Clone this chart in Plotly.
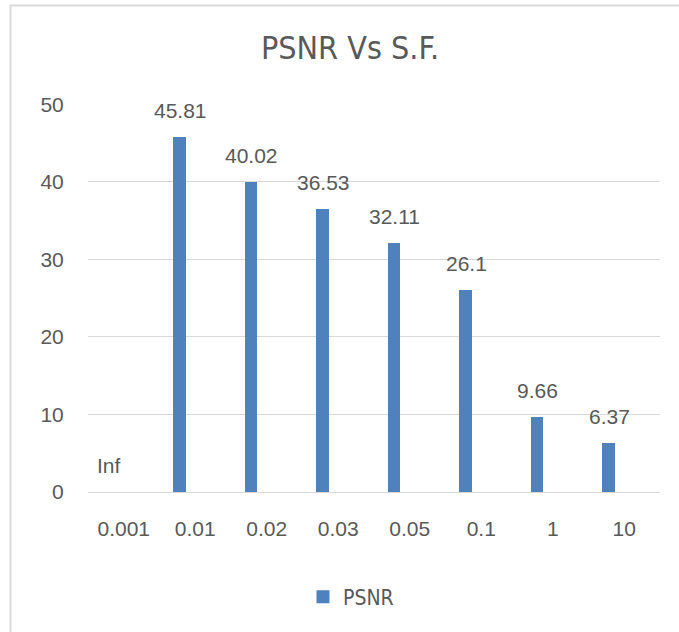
import plotly.graph_objects as go

categories = ["0.001", "0.01", "0.02", "0.03", "0.05", "0.1", "1", "10"]
psnr_values = [0, 45.81, 40.02, 36.53, 32.11, 26.1, 9.66, 6.37]
label_texts = ["Inf", "45.81", "40.02", "36.53", "32.11", "26.1", "9.66", "6.37"]
y_ticks = [0, 10, 20, 30, 40, 50]

W, H = 679, 632
L, R, T, B = 88, 19, 104, 140
plot_w = W - L - R
plot_h = H - T - B

narrow = "Liberation Sans Narrow, Arial Narrow, DejaVu Sans Condensed, sans-serif"
regular = "Liberation Sans, Arial, sans-serif"
gray_text = "#595959"
bar_color = "#4F81BD"
grid = "#D9D9D9"

fig = go.Figure()
fig.add_trace(go.Bar(
    x=categories, y=psnr_values, name="PSNR",
    marker=dict(color=bar_color, line=dict(width=0)),
    width=0.18, offset=-0.31,
    hoverinfo="x+y", showlegend=False,
))
# legend entry with a larger square swatch
fig.add_trace(go.Scatter(
    x=[None], y=[None], mode="markers", name="PSNR",
    marker=dict(symbol="square", size=13, color=bar_color, line=dict(width=0)),
    showlegend=True, hoverinfo="skip",
))

for i, (v, t) in enumerate(zip(psnr_values, label_texts)):
    fig.add_annotation(
        x=i, y=v, text=t, showarrow=False,
        xref="x", yref="y", xanchor="center", yanchor="bottom",
        xshift=-15, yshift=13,
        font=dict(family=regular, size=21, color=gray_text),
    )

# chart border (cropped on right/bottom)
fig.add_shape(
    type="rect", xref="paper", yref="paper",
    x0=(10.5 - L) / plot_w, x1=2.0,
    y0=-2.0, y1=(H - B - 5.5) / plot_h,
    line=dict(color="#D9D9D9", width=2), fillcolor="rgba(0,0,0,0)",
    layer="below",
)

fig.update_layout(
    width=W, height=H,
    margin=dict(l=L, r=R, t=T, b=B, pad=0),
    paper_bgcolor="white", plot_bgcolor="white",
    title=dict(
        text="PSNR Vs S.F.", x=350 / W, xref="container",
        xanchor="center", y=1 - 48 / H, yanchor="middle",
        font=dict(family=narrow, size=32, color=gray_text),
    ),
    showlegend=True,
    legend=dict(
        orientation="h", xanchor="left", yanchor="middle",
        x=(303 - L) / plot_w, y=(H - B - 597) / plot_h,
        font=dict(family=narrow, size=21, color=gray_text),
        bgcolor="rgba(0,0,0,0)",
    ),
    bargap=0.0,
)

fig.update_yaxes(
    range=[0, 50.02], tickvals=y_ticks,
    showgrid=True, gridcolor=grid, gridwidth=1.3,
    zeroline=False, showline=False,
    ticks="outside", ticklen=19, tickcolor="rgba(0,0,0,0)",
    tickfont=dict(family=regular, size=21, color=gray_text),
)
fig.update_xaxes(
    type="category", categoryorder="array", categoryarray=categories,
    range=[-0.5, len(categories) - 0.5],
    showgrid=False, showline=True, linecolor=grid, linewidth=1.3,
    ticks="outside", ticklen=18, tickcolor="rgba(0,0,0,0)",
    tickfont=dict(family=regular, size=21, color=gray_text),
)

fig.write_html(
    "out.html",
    config={"displayModeBar": False},
    post_script="document.body.style.margin='0';document.body.style.overflow='hidden';",
)
